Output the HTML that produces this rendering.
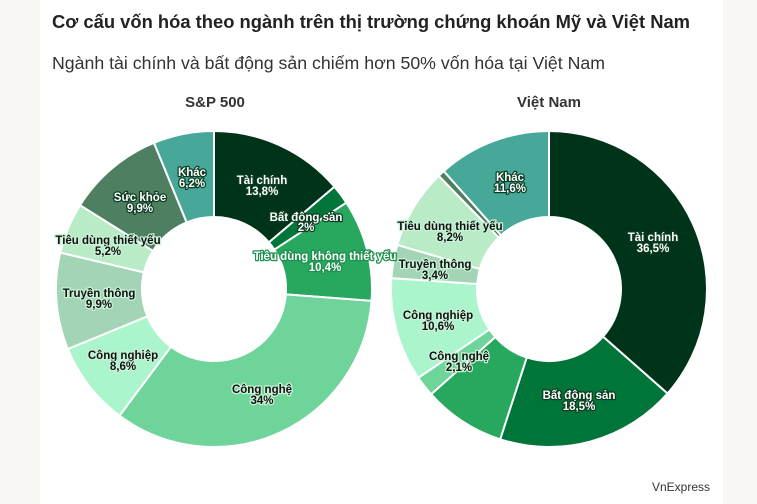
<!DOCTYPE html>
<html><head><meta charset="utf-8"><style>
html,body{margin:0;padding:0;width:757px;height:504px;overflow:hidden;background:#f8f7f4}
#card{position:absolute;left:40px;top:0;width:683px;height:504px;background:#fff}
svg{position:absolute;left:0;top:0}
text{font-family:"Liberation Sans",sans-serif}
.l{font-size:11.5px;font-weight:bold;text-anchor:middle;paint-order:stroke;stroke-width:2.5px;stroke-linejoin:round}
.w{fill:#fff;stroke:#0c3d22}
.wg{fill:#fff;stroke:#1f8f4e}
.b{fill:#111;stroke:#c8f2d6}
</style></head><body>
<div id="card"></div>
<svg width="757" height="504" id="s">
<text x="52" y="28" font-size="18" font-weight="bold" fill="#222" textLength="638" lengthAdjust="spacingAndGlyphs">Cơ cấu vốn hóa theo ngành trên thị trường chứng khoán Mỹ và Việt Nam</text>
<text x="52" y="69" font-size="17.5" fill="#333" textLength="553" lengthAdjust="spacingAndGlyphs">Ngành tài chính và bất động sản chiếm hơn 50% vốn hóa tại Việt Nam</text>
<text x="215" y="107" font-size="15" font-weight="bold" fill="#333" text-anchor="middle">S&amp;P 500</text>
<text x="549" y="107" font-size="15" font-weight="bold" fill="#333" text-anchor="middle">Việt Nam</text>
<text x="710" y="491" font-size="12" fill="#333" text-anchor="end">VnExpress</text>
<g id="arcs"></g>
<g id="labels">
<text class="l w" x="262" y="184">Tài chính</text><text class="l w" x="262" y="195">13,8%</text>
<text class="l w" x="306" y="221">Bất động sản</text><text class="l w" x="306" y="231">2%</text>
<text class="l wg" x="325" y="260">Tiêu dùng không thiết yếu</text><text class="l wg" x="325" y="271">10,4%</text>
<text class="l b" x="262" y="393">Công nghệ</text><text class="l b" x="262" y="404">34%</text>
<text class="l b" x="123" y="359">Công nghiệp</text><text class="l b" x="123" y="370">8,6%</text>
<text class="l b" x="99" y="297">Truyền thông</text><text class="l b" x="99" y="308">9,9%</text>
<text class="l b" x="108" y="244">Tiêu dùng thiết yếu</text><text class="l b" x="108" y="255">5,2%</text>
<text class="l w" x="140" y="201">Sức khỏe</text><text class="l w" x="140" y="212">9,9%</text>
<text class="l w" x="192" y="176">Khác</text><text class="l w" x="192" y="187">6,2%</text>
<text class="l w" x="510" y="181">Khác</text><text class="l w" x="510" y="192">11,6%</text>
<text class="l w" x="653" y="241">Tài chính</text><text class="l w" x="653" y="252">36,5%</text>
<text class="l w" x="579" y="399">Bất động sản</text><text class="l w" x="579" y="410">18,5%</text>
<text class="l b" x="459" y="360">Công nghệ</text><text class="l b" x="459" y="371">2,1%</text>
<text class="l b" x="438" y="319">Công nghiệp</text><text class="l b" x="438" y="330">10,6%</text>
<text class="l b" x="435" y="268">Truyền thông</text><text class="l b" x="435" y="279">3,4%</text>
<text class="l b" x="450" y="230">Tiêu dùng thiết yếu</text><text class="l b" x="450" y="241">8,2%</text>
</g>
</svg>
<script>
var C=['#00341a','#00753a','#27a85e','#6fd49a','#abf5cc','#a3d4b5','#b8ebc6','#4f7f61','#47a89a'];
function donut(cx,cy,vals){
 var g=document.getElementById('arcs'),R=158,r=72,a=0,tot=vals.reduce(function(s,v){return s+v},0);
 vals.forEach(function(v,i){
  var a0=a/tot*2*Math.PI,a1=(a+v)/tot*2*Math.PI;a+=v;
  function p(rr,t){return (cx+rr*Math.sin(t)).toFixed(2)+','+(cy-rr*Math.cos(t)).toFixed(2)}
  var lg=(a1-a0)>Math.PI?1:0;
  var d='M'+p(R,a0)+'A'+R+','+R+' 0 '+lg+' 1 '+p(R,a1)+'L'+p(r,a1)+'A'+r+','+r+' 0 '+lg+' 0 '+p(r,a0)+'Z';
  var e=document.createElementNS('http://www.w3.org/2000/svg','path');
  e.setAttribute('d',d);e.setAttribute('fill',C[i]);e.setAttribute('stroke','#fff');
  e.setAttribute('stroke-width','2');e.setAttribute('stroke-linejoin','round');
  g.appendChild(e);
 });
}
donut(214,289,[13.8,2,10.4,34,8.6,9.9,5.2,9.9,6.2]);
donut(549,289,[36.5,18.5,8.4,2.1,10.6,3.4,8.2,0.7,11.6]);
</script>
</body></html>
